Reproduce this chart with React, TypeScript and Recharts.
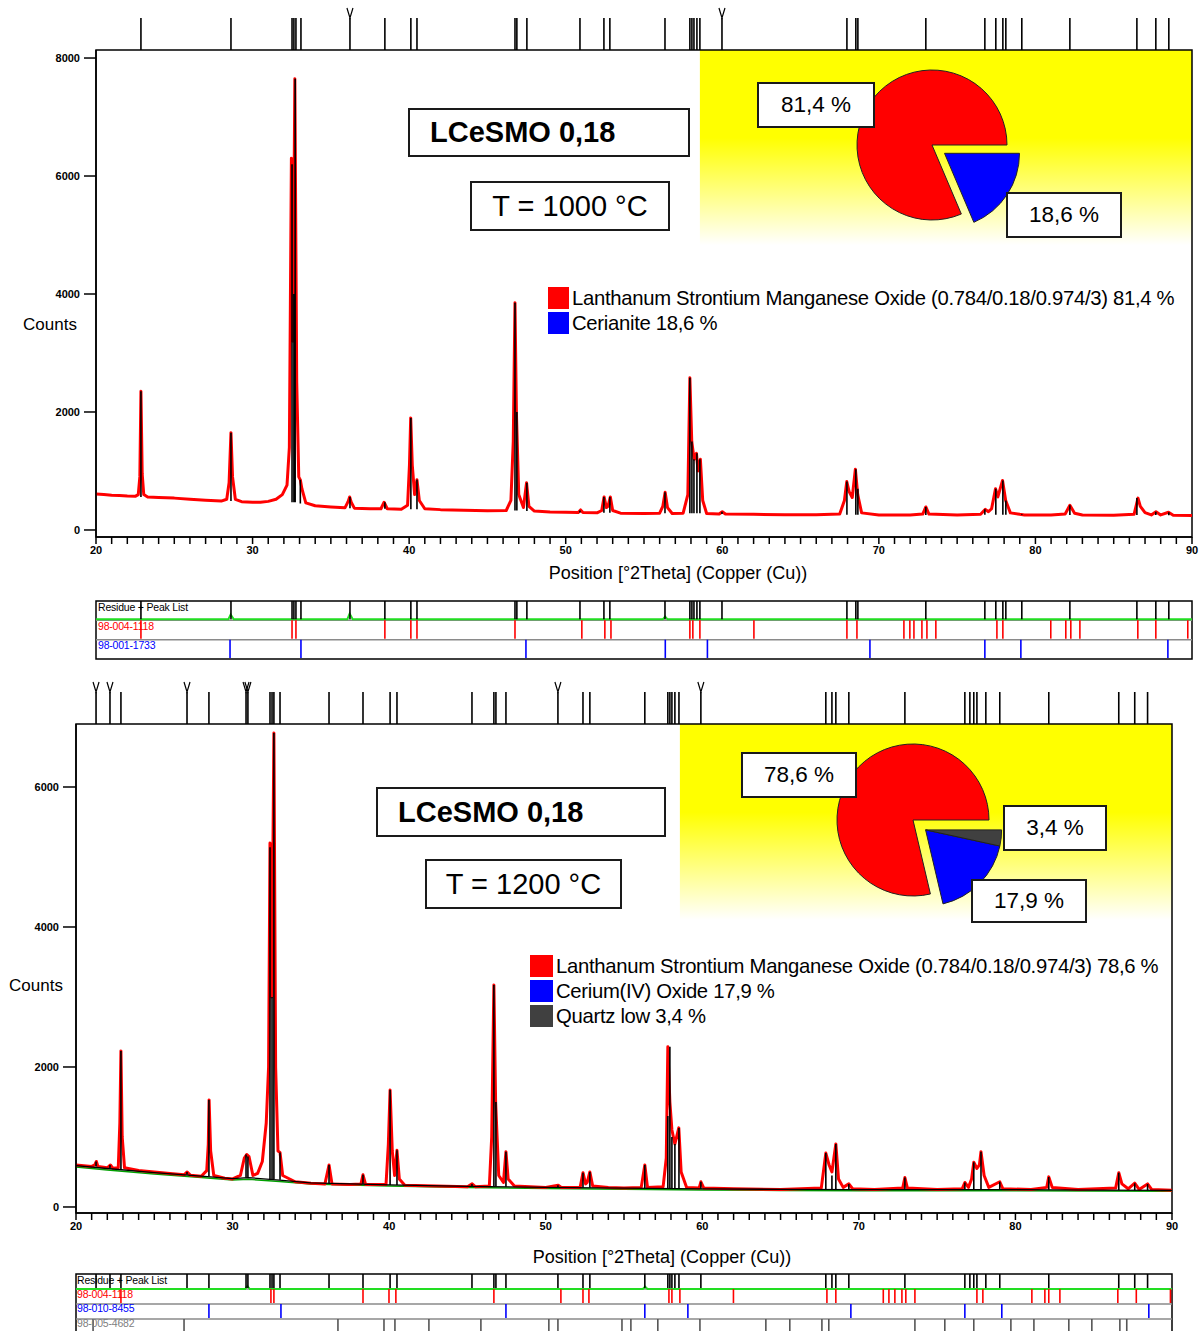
import React from 'react';
import {
    ComposedChart,
    Line,
    Scatter,
    XAxis,
    YAxis,
    ReferenceArea,
    ReferenceLine,
    PieChart,
    Pie,
    Cell,
} from 'recharts';

type Pt = [number, number];
type Stick = [number, number, number]; // position, base, top

const FONT = '"Liberation Sans", Arial, Helvetica, sans-serif';

// shared 2Theta axis
const xMajorTicks = [20, 30, 40, 50, 60, 70, 80, 90];
const xAllTicks = [
    20, 21, 22, 23, 24, 25, 26, 27, 28, 29, 30, 31, 32, 33, 34, 35, 36, 37, 38, 39, 40, 41, 42, 43, 44, 45,
    46, 47, 48, 49, 50, 51, 52, 53, 54, 55, 56, 57, 58, 59, 60, 61, 62, 63, 64, 65, 66, 67, 68, 69, 70, 71,
    72, 73, 74, 75, 76, 77, 78, 79, 80, 81, 82, 83, 84, 85, 86, 87, 88, 89, 90,
];

const phaseColors = ['#ff0000', '#0000ff', '#404040'];

// ---------- Sample 1 : T = 1000 °C ----------
const yTicks1 = [0, 2000, 4000, 6000, 8000];
const phaseNames1 = ['Lanthanum Strontium Manganese Oxide (0.784/0.18/0.974/3)', 'Cerianite'];
const phaseValues1 = [81.4, 18.6];

const observed1: Pt[] = [
    [20.0, 610], [20.5, 600], [21.0, 590], [21.5, 585], [22.0, 575], [22.5, 570], [22.7, 600], [22.8, 900],
    [22.87, 2350], [22.95, 950], [23.05, 600], [23.3, 560], [24.0, 550], [25.0, 540], [26.0, 520], [27.0, 505],
    [28.0, 490], [28.35, 520], [28.5, 800], [28.62, 1650], [28.72, 900], [28.9, 520], [29.3, 480], [30.0, 470],
    [30.5, 470], [31.0, 485], [31.5, 520], [31.9, 600], [32.2, 760], [32.35, 1400], [32.48, 6300], [32.58, 3200],
    [32.7, 7650], [32.82, 2500], [32.95, 900], [33.05, 850], [33.15, 700], [33.4, 460], [34.0, 410], [35.0, 390],
    [35.9, 375], [36.1, 480], [36.2, 560], [36.3, 470], [36.5, 370], [37.5, 360], [38.2, 360], [38.4, 470],
    [38.6, 360], [39.5, 350], [39.9, 420], [40.02, 1100], [40.1, 1900], [40.2, 1100], [40.35, 600], [40.5, 850],
    [40.65, 500], [41.0, 360], [42.0, 345], [43.5, 335], [45.0, 325], [46.2, 330], [46.5, 500], [46.65, 1500],
    [46.76, 3850], [46.85, 2000], [47.0, 600], [47.3, 380], [47.5, 800], [47.65, 400], [48.0, 320], [49.0, 305],
    [50.0, 300], [50.8, 295], [50.95, 340], [51.1, 295], [52.0, 290], [52.3, 330], [52.45, 560], [52.6, 380],
    [52.7, 400], [52.85, 560], [53.0, 330], [53.5, 285], [55.0, 280], [56.0, 285], [56.2, 400], [56.35, 640],
    [56.5, 380], [56.8, 280], [57.5, 285], [57.8, 600], [57.93, 2580], [58.05, 1500], [58.2, 1200], [58.35, 1300],
    [58.45, 1000], [58.6, 1200], [58.75, 500], [59.0, 280], [59.8, 270], [60.0, 310], [60.2, 270], [62.0, 265],
    [64.0, 260], [66.0, 260], [67.5, 270], [67.8, 500], [67.95, 820], [68.1, 650], [68.3, 550], [68.5, 1030],
    [68.65, 600], [68.9, 290], [70.0, 255], [72.0, 255], [72.8, 270], [73.0, 390], [73.2, 270], [75.0, 255],
    [76.5, 265], [76.8, 350], [77.0, 310], [77.2, 360], [77.45, 700], [77.6, 560], [77.9, 840], [78.1, 500],
    [78.4, 290], [79.0, 265], [79.3, 255], [81.0, 255], [81.9, 270], [82.2, 420], [82.5, 285], [83.0, 255],
    [85.0, 250], [86.3, 265], [86.55, 540], [86.7, 400], [87.0, 295], [87.4, 255], [87.7, 310], [88.0, 255],
    [88.5, 300], [88.8, 250], [90.0, 245],
];

const sticks1: Stick[] = [
    [22.87, 560, 2350], [28.62, 490, 1650], [32.52, 470, 6200], [32.64, 470, 4000], [32.72, 470, 7650],
    [33.05, 450, 850], [36.22, 370, 560], [38.45, 360, 470], [40.11, 350, 1900], [40.5, 350, 850],
    [46.76, 330, 3850], [46.88, 330, 2000], [47.52, 320, 800], [50.91, 295, 330], [52.44, 290, 560],
    [52.82, 290, 560], [56.34, 285, 640], [57.93, 285, 2580], [58.06, 285, 1500], [58.19, 285, 1200],
    [58.38, 285, 1300], [58.57, 285, 1200], [59.98, 270, 310], [67.96, 260, 820], [68.53, 260, 1030],
    [68.66, 260, 700], [73.0, 255, 390], [76.77, 260, 350], [77.47, 260, 700], [77.92, 260, 840],
    [78.11, 260, 500], [79.13, 255, 265], [82.2, 255, 420], [86.48, 255, 540], [87.69, 255, 310],
    [88.52, 250, 300],
];

const peakList1 = [
    22.87, 28.62, 32.52, 32.64, 32.77, 33.09, 36.22, 38.45, 40.11, 40.5, 46.76, 46.88, 47.52, 50.91, 52.44,
    52.82, 56.34, 57.93, 58.06, 58.19, 58.38, 58.57, 59.98, 67.96, 68.53, 68.66, 73.0, 76.77, 77.47, 77.92,
    78.11, 79.13, 82.2, 86.48, 87.69, 88.52,
];
const peakListV1 = [36.22, 59.98];

const refLsmo1 = [
    22.87, 32.52, 32.77, 38.45, 40.11, 40.5, 46.76, 51.03, 52.5, 52.89, 57.93, 58.12, 58.57, 62.02, 67.96,
    68.6, 71.6, 71.98, 72.24, 72.75, 73.07, 73.64, 77.54, 77.92, 80.98, 81.94, 82.26, 82.84, 86.54, 87.69, 89.73,
];
const refCeria1 = [28.56, 33.09, 47.46, 56.36, 59.05, 69.43, 76.77, 79.07, 88.46];
const residue1: Pt[] = [
    [20, 2.05], [28.45, 2.05], [28.6, 2.3], [28.8, 2.05], [36.05, 2.05], [36.2, 2.35], [36.4, 2.05],
    [56.2, 2.05], [56.35, 2.2], [56.5, 2.05], [90, 2.05],
];

// ---------- Sample 2 : T = 1200 °C ----------
const yTicks2 = [0, 2000, 4000, 6000];
const phaseNames2 = ['Lanthanum Strontium Manganese Oxide (0.784/0.18/0.974/3)', 'Cerium(IV) Oxide', 'Quartz low'];
const phaseValues2 = [78.6, 17.9, 3.4];

const observed2: Pt[] = [
    [20.0, 600], [20.5, 590], [21.0, 580], [21.2, 600], [21.3, 650], [21.4, 580], [22.0, 560], [22.2, 600],
    [22.35, 555], [22.7, 560], [22.8, 1200], [22.87, 2230], [22.95, 1000], [23.1, 560], [24.0, 520], [25.0, 500],
    [26.0, 480], [26.9, 460], [27.1, 500], [27.3, 455], [28.0, 440], [28.35, 520], [28.45, 900], [28.5, 1530],
    [28.6, 800], [28.8, 450], [29.5, 410], [30.0, 400], [30.5, 450], [30.75, 700], [30.9, 750], [31.05, 720],
    [31.3, 450], [31.6, 480], [31.9, 650], [32.15, 1200], [32.3, 2000], [32.39, 5200], [32.5, 3000],
    [32.64, 6770], [32.75, 2000], [32.9, 800], [33.03, 780], [33.2, 450], [34.0, 360], [35.0, 340], [35.9, 330],
    [36.16, 600], [36.35, 330], [37.5, 320], [38.2, 330], [38.33, 460], [38.5, 320], [39.8, 320], [39.95, 900],
    [40.06, 1670], [40.2, 800], [40.35, 450], [40.5, 810], [40.65, 400], [41.0, 310], [43.0, 300], [45.0, 290],
    [45.3, 330], [45.5, 290], [46.4, 300], [46.55, 1000], [46.69, 3170], [46.8, 1500], [47.0, 450], [47.3, 350],
    [47.46, 790], [47.6, 400], [48.0, 300], [50.0, 280], [50.8, 310], [51.0, 280], [52.2, 280], [52.38, 490],
    [52.55, 330], [52.65, 350], [52.82, 500], [53.0, 300], [54.0, 280], [55.0, 270], [56.1, 280], [56.33, 600],
    [56.5, 280], [57.5, 290], [57.7, 700], [57.8, 2290], [57.93, 1500], [58.06, 1100], [58.25, 900], [58.5, 1130],
    [58.65, 500], [59.0, 280], [59.8, 270], [59.91, 360], [60.1, 270], [62.0, 260], [65.0, 250], [67.6, 270],
    [67.89, 770], [68.1, 600], [68.28, 500], [68.53, 900], [68.7, 400], [69.0, 280], [69.36, 330], [69.6, 260],
    [71.0, 250], [72.8, 270], [72.94, 420], [73.1, 270], [75.0, 250], [76.6, 260], [76.77, 350], [77.0, 280],
    [77.2, 400], [77.34, 640], [77.54, 550], [77.7, 600], [77.8, 790], [78.0, 450], [78.3, 280], [79.0, 360],
    [79.2, 260], [81.0, 250], [82.0, 280], [82.13, 430], [82.35, 280], [84.0, 250], [86.4, 270], [86.6, 490],
    [86.8, 330], [87.2, 260], [87.62, 340], [87.9, 250], [88.44, 330], [88.7, 250], [90.0, 240],
];

const calcBackground2: Pt[] = [
    [20, 590], [22, 550], [25, 490], [28, 440], [30, 405], [31, 420], [33, 385], [35, 345], [40, 315],
    [45, 295], [50, 280], [55, 268], [60, 258], [65, 252], [70, 248], [75, 248], [80, 248], [85, 242], [90, 238],
];
const fitBackground2: Pt[] = [
    [20, 570], [22, 530], [25, 470], [28, 420], [30, 385], [31, 395], [33, 365], [35, 330], [40, 300],
    [45, 280], [50, 265], [55, 252], [60, 242], [65, 236], [70, 232], [75, 232], [80, 232], [85, 228], [90, 224],
];

const sticks2: Stick[] = [
    [21.28, 580, 650], [22.17, 555, 600], [22.87, 540, 2230], [27.09, 460, 500], [28.49, 440, 1530],
    [30.86, 420, 750], [30.98, 420, 720], [32.39, 400, 5140], [32.52, 400, 3000], [32.64, 400, 6770],
    [33.03, 390, 780], [36.16, 340, 600], [38.33, 330, 460], [40.06, 315, 1670], [40.5, 315, 810],
    [45.29, 295, 330], [46.69, 295, 3170], [46.82, 295, 1500], [47.46, 290, 790], [50.78, 280, 310],
    [52.38, 275, 490], [52.82, 275, 500], [56.33, 265, 600], [57.8, 260, 1300], [57.93, 260, 2290],
    [58.06, 260, 1000], [58.25, 260, 900], [58.51, 260, 1130], [59.91, 258, 360], [67.89, 250, 770],
    [68.28, 250, 450], [68.53, 250, 900], [69.36, 250, 330], [72.94, 248, 420], [76.77, 248, 350],
    [77.34, 248, 640], [77.8, 248, 790], [79.0, 248, 360], [82.13, 246, 430], [86.6, 242, 490],
    [87.62, 240, 340], [88.44, 240, 330],
];

const peakList2 = [
    21.28, 22.17, 22.87, 27.09, 28.49, 30.86, 30.98, 32.39, 32.52, 32.64, 33.03, 36.16, 38.33, 40.06, 40.5,
    45.29, 46.69, 46.82, 47.46, 50.78, 52.38, 52.82, 56.33, 57.8, 57.93, 58.06, 58.25, 58.51, 59.91, 67.89,
    68.28, 68.53, 69.36, 72.94, 76.77, 77.09, 77.34, 77.54, 78.11, 79.0, 82.13, 86.6, 87.62, 88.44,
];
const peakListV2 = [21.28, 22.17, 27.09, 30.86, 30.98, 50.78, 59.91];

const refLsmo2 = [
    22.87, 32.45, 32.64, 38.33, 39.99, 40.43, 46.69, 50.97, 52.38, 52.76, 57.87, 58.06, 58.57, 61.99, 67.96,
    68.53, 71.56, 71.92, 72.3, 72.75, 73.0, 73.58, 77.54, 77.92, 81.05, 81.88, 82.13, 82.84, 86.54, 87.72, 89.9,
];
const refCeria2 = [28.49, 33.09, 47.46, 56.33, 59.08, 69.49, 76.77, 79.13, 88.52];
const refQuartz2 = [
    21.09, 26.9, 36.73, 39.67, 40.37, 42.54, 45.86, 50.2, 50.78, 54.87, 55.44, 57.16, 59.85, 64.06, 65.59,
    67.64, 68.08, 73.58, 75.49, 77.34, 79.71, 81.18, 83.41, 84.88, 86.67, 87.11,
];
const residue2: Pt[] = [
    [20, 3.0], [30.8, 3.0], [30.95, 3.2], [31.1, 3.0], [56.2, 3.0], [56.35, 3.15], [56.5, 3.0], [90, 3.0],
];

// ---------- helpers ----------
const toXY = (arr: Pt[]) => arr.map(([x, y]) => ({ x, y }));
const toSticks = (arr: Stick[]) =>
    arr.flatMap(([x, b, t]) => [
        { x, y: b },
        { x, y: t },
        { x, y: null },
    ]);

function peakMarker(len: number, vList: number[]) {
    return (p: any) => {
        const { cx, cy, payload } = p;
        const top = cy - len;
        const v = vList.includes(payload.x);
        return (
            <g>
                <line x1={cx} y1={cy} x2={cx} y2={top} stroke="#000" strokeWidth={1.6} />
                {v && (
                    <path
                        d={`M${cx - 3},${top - 10}L${cx},${top}L${cx + 3},${top - 10}`}
                        fill="none"
                        stroke="#000"
                        strokeWidth={1.2}
                    />
                )}
            </g>
        );
    };
}

function downTick(len: number, color: string) {
    return (p: any) => (
        <line x1={p.cx} y1={p.cy} x2={p.cx} y2={p.cy + len} stroke={color} strokeWidth={1.6} />
    );
}

const tickStyle = { fontSize: 11, fontWeight: 700, fill: '#000', fontFamily: FONT };

interface MainPlotProps {
    height: number;
    margin: { top: number; right: number; bottom: number; left: number };
    yAxisWidth: number;
    xAxisHeight: number;
    yTickSize: number;
    yDomain: [number, number];
    yTicks: number[];
    yellow: [number, number];
    gradId: string;
    observed: Pt[];
    sticks: Stick[];
    peaks: number[];
    peaksV: number[];
    calcBg?: Pt[];
    fitBg?: Pt[];
}

function MainPlot(p: MainPlotProps) {
    return (
        <ComposedChart width={1202} height={p.height} margin={p.margin}>
            <defs>
                <linearGradient id={p.gradId} x1="0" y1="0" x2="0" y2="1">
                    <stop offset="0" stopColor="#ffff00" />
                    <stop offset="0.45" stopColor="#ffff00" />
                    <stop offset="1" stopColor="#ffffff" />
                </linearGradient>
            </defs>
            <XAxis
                type="number"
                dataKey="x"
                domain={[20, 90]}
                ticks={xAllTicks}
                interval={0}
                tickFormatter={(v: number) => (xMajorTicks.includes(v) ? String(v) : '')}
                tickSize={7}
                height={p.xAxisHeight}
                axisLine={{ stroke: '#000', strokeWidth: 1.5 }}
                tickLine={{ stroke: '#000', strokeWidth: 1.5 }}
                tick={tickStyle}
            />
            <YAxis
                type="number"
                domain={p.yDomain}
                ticks={p.yTicks}
                interval={0}
                width={p.yAxisWidth}
                tickSize={p.yTickSize}
                tickMargin={4}
                axisLine={{ stroke: '#000', strokeWidth: 1.5 }}
                tickLine={{ stroke: '#000', strokeWidth: 1.5 }}
                tick={tickStyle}
            />
            <ReferenceArea
                x1={p.yellow[0]}
                x2={90}
                y1={p.yellow[1]}
                y2={p.yDomain[1]}
                fill={`url(#${p.gradId})`}
                fillOpacity={1}
                stroke="none"
            />
            {p.fitBg && (
                <Line data={toXY(p.fitBg)} dataKey="y" stroke="#00a000" strokeWidth={1.5} dot={false} activeDot={false} isAnimationActive={false} />
            )}
            <Line
                data={toXY(p.observed)}
                dataKey="y"
                stroke="#ff0000"
                strokeWidth={3}
                strokeLinejoin="round"
                dot={false}
                activeDot={false}
                isAnimationActive={false}
            />
            {p.calcBg && (
                <Line data={toXY(p.calcBg)} dataKey="y" stroke="#000" strokeWidth={1.3} dot={false} activeDot={false} isAnimationActive={false} />
            )}
            <Line
                data={toSticks(p.sticks)}
                dataKey="y"
                stroke="#000"
                strokeWidth={1.6}
                dot={false}
                activeDot={false}
                connectNulls={false}
                isAnimationActive={false}
            />
            <Scatter
                data={p.peaks.map((x) => ({ x, y: p.yDomain[1] }))}
                dataKey="y"
                shape={peakMarker(32, p.peaksV)}
                isAnimationActive={false}
            />
            <ReferenceArea x1={20} x2={90} y1={p.yDomain[0]} y2={p.yDomain[1]} fill="none" stroke="#000" strokeWidth={1.5} />
        </ComposedChart>
    );
}

interface StripRow {
    positions: number[];
    color: string;
}

function PeakStrip(p: {
    margin: { top: number; right: number; bottom: number; left: number };
    rowH: number;
    rows: StripRow[];
    residue: Pt[];
}) {
    const n = p.rows.length;
    return (
        <ComposedChart width={1202} height={80} margin={p.margin}>
            <XAxis type="number" dataKey="x" domain={[20, 90]} hide />
            <YAxis type="number" domain={[0, n]} hide />
            {Array.from({ length: n - 1 }, (_, i) => (
                <ReferenceLine key={i} y={i + 1} stroke="#8a8a8a" strokeWidth={1.5} />
            ))}
            <Line data={toXY(p.residue)} dataKey="y" stroke="#22dd22" strokeWidth={2} dot={false} activeDot={false} isAnimationActive={false} />
            {p.rows.map((r, i) => (
                <Scatter
                    key={i}
                    data={r.positions.map((x) => ({ x, y: n - i }))}
                    dataKey="y"
                    shape={downTick(p.rowH - 1, r.color)}
                    isAnimationActive={false}
                />
            ))}
            <ReferenceArea x1={20} x2={90} y1={0} y2={n} fill="none" stroke="#000" strokeWidth={1.5} />
        </ComposedChart>
    );
}

function PhasePie(p: { values: number[]; names: string[]; r: number; dx: number; dy: number }) {
    const data = p.values.map((v, i) => ({ name: p.names[i], value: v }));
    return (
        <PieChart width={300} height={200} margin={{ top: 0, right: 0, bottom: 0, left: 0 }}>
            <Pie data={data} dataKey="value" cx={150} cy={100} outerRadius={p.r} startAngle={0} endAngle={360} isAnimationActive={false}>
                {data.map((d, i) => (
                    <Cell key={d.name} fill={i === 0 ? phaseColors[0] : 'none'} stroke={i === 0 ? '#222' : 'none'} strokeWidth={1} />
                ))}
            </Pie>
            <Pie data={data} dataKey="value" cx={150 + p.dx} cy={100 + p.dy} outerRadius={p.r} startAngle={0} endAngle={360} isAnimationActive={false}>
                {data.map((d, i) => (
                    <Cell key={d.name} fill={i === 0 ? 'none' : phaseColors[i]} stroke={i === 0 ? 'none' : '#222'} strokeWidth={1} />
                ))}
            </Pie>
        </PieChart>
    );
}

const abs = (left: number, top: number): React.CSSProperties => ({ position: 'absolute', left, top });

function TextBox(p: { left: number; top: number; w: number; h: number; text: string; size: number; bold?: boolean; padLeft?: number }) {
    return (
        <div
            style={{
                ...abs(p.left, p.top),
                width: p.w,
                height: p.h,
                boxSizing: 'border-box',
                border: '2px solid #1a1a1a',
                background: '#fff',
                display: 'flex',
                alignItems: 'center',
                justifyContent: p.padLeft !== undefined ? 'flex-start' : 'center',
                paddingLeft: p.padLeft ?? 0,
                fontSize: p.size,
                fontWeight: p.bold ? 700 : 400,
                color: '#000',
                whiteSpace: 'nowrap',
            }}
        >
            {p.text}
        </div>
    );
}

function LegendRows(p: { left: number; top: number; names: string[]; values: number[]; sq: number; step: number }) {
    return (
        <>
            {p.names.map((n, i) => (
                <div key={n} style={{ ...abs(p.left, p.top + i * p.step), display: 'flex', alignItems: 'center', height: 22 }}>
                    <span style={{ width: p.sq, height: 22, background: phaseColors[i], display: 'inline-block' }} />
                    <span style={{ marginLeft: 3, fontSize: 20.3, letterSpacing: -0.3, whiteSpace: 'nowrap' }}>
                        {`${n} ${p.values[i].toFixed(1).replace('.', ',')} %`}
                    </span>
                </div>
            ))}
        </>
    );
}

const pct = (v: number) => `${v.toFixed(1).replace('.', ',')} %`;

function CenterText(p: { cx: number; cy: number; text: string; size: number }) {
    return (
        <div style={{ ...abs(p.cx - 200, p.cy - 12), width: 400, height: 24, textAlign: 'center', fontSize: p.size, lineHeight: '24px', whiteSpace: 'nowrap' }}>
            {p.text}
        </div>
    );
}

function SmallLabel(p: { left: number; top: number; text: string; color: string }) {
    return (
        <div style={{ ...abs(p.left, p.top), fontSize: 10.5, lineHeight: '13px', color: p.color, whiteSpace: 'nowrap', letterSpacing: -0.2 }}>
            {p.text}
        </div>
    );
}

export default function App() {
    return (
        <div style={{ position: 'absolute', left: 0, top: 0, width: 1202, height: 1331, overflow: 'hidden', background: '#fff', fontFamily: FONT, color: '#000' }}>
            {/* ---- Sample 1 ---- */}
            <div style={abs(0, 0)}>
                <MainPlot
                    height={600}
                    margin={{ top: 50, right: 10, bottom: 0, left: 0 }}
                    yAxisWidth={96}
                    xAxisHeight={63}
                    yTickSize={12}
                    yDomain={[-119, 8136]}
                    yTicks={yTicks1}
                    yellow={[58.57, 4830]}
                    gradId="yellow1"
                    observed={observed1}
                    sticks={sticks1}
                    peaks={peakList1}
                    peaksV={peakListV1}
                />
            </div>
            <div style={abs(782, 45)}>
                <PhasePie values={phaseValues1} names={phaseNames1} r={75} dx={12.5} dy={8.3} />
            </div>
            <TextBox left={408} top={108} w={282} h={49} text="LCeSMO 0,18" size={29} bold padLeft={20} />
            <TextBox left={470} top={181} w={200} h={50} text="T = 1000 °C" size={29} />
            <TextBox left={757} top={82} w={118} h={46} text={pct(phaseValues1[0])} size={22.5} />
            <TextBox left={1006} top={192} w={116} h={46} text={pct(phaseValues1[1])} size={22.5} />
            <LegendRows left={548} top={287} names={phaseNames1} values={phaseValues1} sq={21} step={25} />
            <CenterText cx={50} cy={325} text="Counts" size={17} />
            <CenterText cx={678} cy={573} text="Position [°2Theta] (Copper (Cu))" size={18} />

            <div style={abs(0, 590)}>
                <PeakStrip
                    margin={{ top: 11, right: 10, bottom: 11, left: 96 }}
                    rowH={19.3}
                    residue={residue1}
                    rows={[
                        { positions: peakList1, color: '#000' },
                        { positions: refLsmo1, color: '#ff0000' },
                        { positions: refCeria1, color: '#0000ff' },
                    ]}
                />
            </div>
            <SmallLabel left={98} top={601} text="Residue + Peak List" color="#000" />
            <SmallLabel left={98} top={620} text="98-004-1118" color="#ff0000" />
            <SmallLabel left={98} top={639} text="98-001-1733" color="#0000ff" />

            {/* ---- Sample 2 ---- */}
            <div style={abs(0, 680)}>
                <MainPlot
                    height={573}
                    margin={{ top: 44, right: 30, bottom: 0, left: 0 }}
                    yAxisWidth={76}
                    xAxisHeight={40}
                    yTickSize={13}
                    yDomain={[-86, 6900]}
                    yTicks={yTicks2}
                    yellow={[58.57, 4100]}
                    gradId="yellow2"
                    observed={observed2}
                    sticks={sticks2}
                    peaks={peakList2}
                    peaksV={peakListV2}
                    calcBg={calcBackground2}
                    fitBg={fitBackground2}
                />
            </div>
            <div style={abs(763, 720)}>
                <PhasePie values={phaseValues2} names={phaseNames2} r={76} dx={12.6} dy={9.9} />
            </div>
            <TextBox left={376} top={787} w={290} h={50} text="LCeSMO 0,18" size={29} bold padLeft={20} />
            <TextBox left={425} top={859} w={197} h={50} text="T = 1200 °C" size={29} />
            <TextBox left={741} top={752} w={116} h={46} text={pct(phaseValues2[0])} size={22.5} />
            <TextBox left={1003} top={805} w={104} h={46} text={pct(phaseValues2[2])} size={22.5} />
            <TextBox left={971} top={879} w={116} h={44} text={pct(phaseValues2[1])} size={22.5} />
            <LegendRows left={530} top={955} names={phaseNames2} values={phaseValues2} sq={23} step={25} />
            <CenterText cx={36} cy={986} text="Counts" size={17} />
            <CenterText cx={662} cy={1257} text="Position [°2Theta] (Copper (Cu))" size={18} />

            <div style={abs(0, 1264)}>
                <PeakStrip
                    margin={{ top: 10, right: 30, bottom: 10, left: 76 }}
                    rowH={15}
                    residue={residue2}
                    rows={[
                        { positions: peakList2, color: '#000' },
                        { positions: refLsmo2, color: '#ff0000' },
                        { positions: refCeria2, color: '#0000ff' },
                        { positions: refQuartz2, color: '#555' },
                    ]}
                />
            </div>
            <SmallLabel left={77} top={1274} text="Residue + Peak List" color="#000" />
            <SmallLabel left={77} top={1288} text="98-004-1118" color="#ff0000" />
            <SmallLabel left={77} top={1302} text="98-010-8455" color="#0000ff" />
            <SmallLabel left={77} top={1317} text="98-005-4682" color="#808080" />
        </div>
    );
}
